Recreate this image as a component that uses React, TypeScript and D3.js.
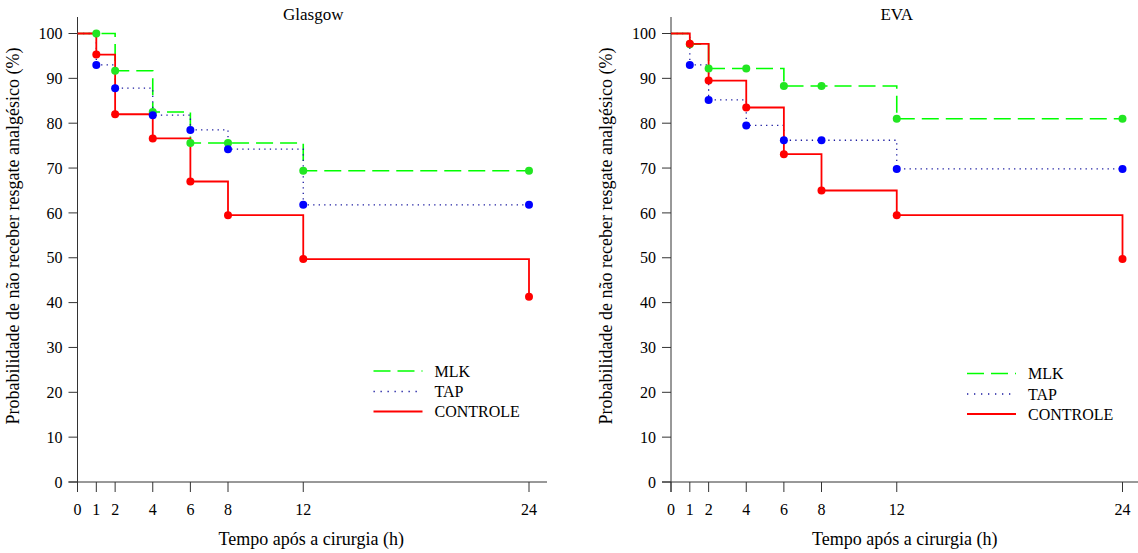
import React from "react";
import * as d3 from "d3";

const times = [0, 1, 2, 4, 6, 8, 12, 24];
const xTicks = [0, 1, 2, 4, 6, 8, 12, 24];
const yTicks = [0, 10, 20, 30, 40, 50, 60, 70, 80, 90, 100];

const glasgowMLK = [100, 100, 91.7, 82.5, 75.6, 75.6, 69.4, 69.4];
const glasgowTAP = [100, 93.0, 87.8, 81.8, 78.5, 74.2, 61.8, 61.8];
const glasgowCTRL = [100, 95.3, 82.0, 76.6, 67.0, 59.5, 49.7, 41.3];

const evaMLK = [100, 97.6, 92.2, 92.2, 88.3, 88.3, 81.0, 81.0];
const evaTAP = [100, 93.0, 85.2, 79.5, 76.2, 76.2, 69.8, 69.8];
const evaCTRL = [100, 97.7, 89.5, 83.5, 73.1, 65.0, 59.5, 49.7];

const seriesNames = ["MLK", "TAP", "CONTROLE"];
const panelTitles = ["Glasgow", "EVA"];
const xTitle = "Tempo após a cirurgia (h)";
const yTitle = "Probabilidade de não receber resgate analgésico (%)";

const styles = [
  { line: "#00ff00", point: "#22e622", width: 1.6, dash: "17,7" },
  { line: "#1a1aa0", point: "#0000ff", width: 1.3, dash: "1.3,4.2" },
  { line: "#ff0000", point: "#ff0000", width: 1.8, dash: "" },
];

const FONT = "'Liberation Serif', 'Times New Roman', serif";

type PanelProps = {
  x0: number;
  title: string;
  titleShift: number;
  data: number[][];
  xEnd: number;
  legDy: number;
};

function Panel({ x0, title, titleShift, data, xEnd, legDy }: PanelProps) {
  const x = d3.scaleLinear().domain([0, 24]).range([x0, x0 + 451.5]);
  const y = d3.scaleLinear().domain([0, 100]).range([482, 33.5]);
  const line = d3
    .line<[number, number]>()
    .x((d) => x(d[0]))
    .y((d) => y(d[1]))
    .curve(d3.curveStepAfter);
  const legX = x0 + 296;
  const legY = [371 + legDy, 391.5 + legDy, 411.5 + legDy];
  return (
    <g>
      <text x={x(12) + titleShift} y={20} textAnchor="middle" fontSize={17} fontFamily={FONT}>
        {title}
      </text>
      {/* axes */}
      <line x1={x0} x2={x0} y1={17} y2={492} stroke="#333" strokeWidth={1} />
      <line x1={x0 - 9} x2={xEnd} y1={482} y2={482} stroke="#333" strokeWidth={1} />
      {yTicks.map((t) => (
        <g key={"y" + t}>
          <line x1={x0 - 9} x2={x0} y1={y(t)} y2={y(t)} stroke="#333" />
          <text
            x={x0 - 15}
            y={y(t)}
            dy="0.35em"
            textAnchor="end"
            fontSize={16}
            fontFamily={FONT}
          >
            {t}
          </text>
        </g>
      ))}
      {xTicks.map((t) => (
        <g key={"x" + t}>
          <line x1={x(t)} x2={x(t)} y1={482} y2={492} stroke="#333" />
          <text x={x(t)} y={515} textAnchor="middle" fontSize={16} fontFamily={FONT}>
            {t}
          </text>
        </g>
      ))}
      <text x={x(12) + 8} y={545} textAnchor="middle" fontSize={18} fontFamily={FONT}>
        {xTitle}
      </text>
      <text
        transform={`translate(${x0 - 59},${236}) rotate(-90)`}
        textAnchor="middle"
        fontSize={18}
        fontFamily={FONT}
      >
        {yTitle}
      </text>
      {/* lines */}
      {data.map((vals, i) => (
        <path
          key={"l" + i}
          d={line(times.map((t, j) => [t, vals[j]] as [number, number])) || ""}
          fill="none"
          stroke={styles[i].line}
          strokeWidth={styles[i].width}
          strokeDasharray={styles[i].dash}
        />
      ))}
      {/* points */}
      {data.map((vals, i) =>
        times.slice(1).map((t, j) => (
          <circle
            key={"p" + i + "-" + j}
            cx={x(t)}
            cy={y(vals[j + 1])}
            r={4}
            fill={styles[i].point}
          />
        ))
      )}
      {/* legend */}
      {seriesNames.map((n, i) => (
        <g key={"lg" + i}>
          <line
            x1={legX}
            x2={legX + 49}
            y1={legY[i]}
            y2={legY[i]}
            stroke={styles[i].line}
            strokeWidth={styles[i].width}
            strokeDasharray={i === 1 ? "1.3,5.7" : styles[i].dash}
          />
          <text x={legX + 61} y={legY[i]} dy="0.35em" fontSize={16} fontFamily={FONT}>
            {n}
          </text>
        </g>
      ))}
    </g>
  );
}

export default function App() {
  return (
    <svg
      width={1138}
      height={553}
      style={{ position: "absolute", left: 0, top: 0, background: "#fff" }}
    >
      <rect width={1138} height={553} fill="#fff" />
      <Panel
        x0={77.5}
        title={panelTitles[0]}
        titleShift={10}
        data={[glasgowMLK, glasgowTAP, glasgowCTRL]}
        xEnd={547}
        legDy={0}
      />
      <Panel
        x0={671}
        title={panelTitles[1]}
        titleShift={0}
        data={[evaMLK, evaTAP, evaCTRL]}
        xEnd={1138}
        legDy={2.5}
      />
    </svg>
  );
}
